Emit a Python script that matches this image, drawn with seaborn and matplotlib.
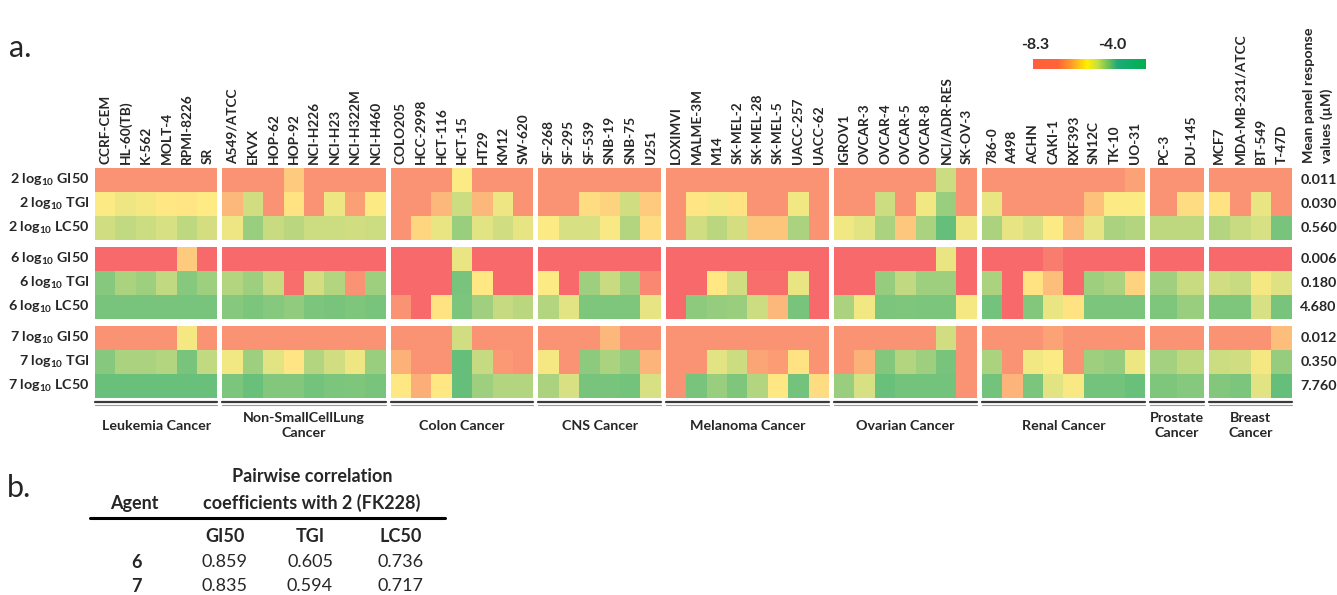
import numpy as np
import pandas as pd
import matplotlib
matplotlib.use('Agg')
import matplotlib.pyplot as plt
import seaborn as sns
from matplotlib.colors import LinearSegmentedColormap
from matplotlib.lines import Line2D

# ---- data (log10 molar concentrations) ----
groups = ['Leukemia Cancer', 'Non-SmallCellLung\nCancer', 'Colon Cancer', 'CNS Cancer',
          'Melanoma Cancer', 'Ovarian Cancer', 'Renal Cancer', 'Prostate\nCancer', 'Breast\nCancer']
cell_lines = [
    ['CCRF-CEM', 'HL-60(TB)', 'K-562', 'MOLT-4', 'RPMI-8226', 'SR'],
    ['A549/ATCC', 'EKVX', 'HOP-62', 'HOP-92', 'NCI-H226', 'NCI-H23', 'NCI-H322M', 'NCI-H460'],
    ['COLO205', 'HCC-2998', 'HCT-116', 'HCT-15', 'HT29', 'KM12', 'SW-620'],
    ['SF-268', 'SF-295', 'SF-539', 'SNB-19', 'SNB-75', 'U251'],
    ['LOXIMVI', 'MALME-3M', 'M14', 'SK-MEL-2', 'SK-MEL-28', 'SK-MEL-5', 'UACC-257', 'UACC-62'],
    ['IGROV1', 'OVCAR-3', 'OVCAR-4', 'OVCAR-5', 'OVCAR-8', 'NCI/ADR-RES', 'SK-OV-3'],
    ['786-0', 'A498', 'ACHN', 'CAKI-1', 'RXF393', 'SN12C', 'TK-10', 'UO-31'],
    ['PC-3', 'DU-145'],
    ['MCF7', 'MDA-MB-231/ATCC', 'BT-549', 'T-47D'],
]

row_labels = [r'2 log$_{\mathregular{10}}$ GI50', r'2 log$_{\mathregular{10}}$ TGI', r'2 log$_{\mathregular{10}}$ LC50',
              r'6 log$_{\mathregular{10}}$ GI50', r'6 log$_{\mathregular{10}}$ TGI', r'6 log$_{\mathregular{10}}$ LC50',
              r'7 log$_{\mathregular{10}}$ GI50', r'7 log$_{\mathregular{10}}$ TGI', r'7 log$_{\mathregular{10}}$ LC50']
mean_response = ['0.011', '0.030', '0.560', '0.006', '0.180', '4.680', '0.012', '0.350', '7.760']

gi50_2 = [-7.6, -7.6, -7.6, -7.6, -7.6, -7.6,
          -7.6, -7.6, -7.6, -6.7, -7.6, -7.6, -7.6, -7.6,
          -7.6, -7.6, -7.6, -6.1, -7.6, -7.6, -7.6,
          -7.6, -7.6, -7.6, -7.6, -7.6, -7.6,
          -7.6, -7.6, -7.6, -7.6, -7.6, -7.6, -7.6, -7.6,
          -7.6, -7.6, -7.6, -7.6, -7.6, -5.45, -7.6,
          -7.6, -7.6, -7.6, -7.6, -7.6, -7.6, -7.6, -7.35,
          -7.6, -7.6,
          -7.6, -7.6, -7.6, -7.6]
tgi_2 = [-6.1, -5.9, -6.0, -6.2, -6.25, -6.15,
         -7.0, -5.5, -7.6, -6.3, -7.6, -5.9, -7.4, -6.1,
         -7.6, -7.6, -7.0, -5.45, -7.0, -5.9, -7.6,
         -7.6, -7.6, -6.4, -6.55, -5.5, -6.7,
         -7.6, -6.25, -6.0, -6.3, -7.6, -7.6, -5.95, -7.6,
         -7.6, -7.6, -5.45, -7.6, -5.95, -4.75, -7.6,
         -5.85, -7.6, -7.6, -7.6, -7.6, -6.85, -6.1, -6.1,
         -7.6, -6.4,
         -6.3, -7.6, -5.85, -7.6]
lc50_2 = [-5.5, -5.3, -5.45, -5.6, -5.25, -5.55,
          -5.9, -4.75, -5.4, -5.2, -5.45, -5.45, -5.5, -5.45,
          -7.6, -6.5, -5.85, -4.75, -5.75, -5.5, -5.8,
          -6.1, -5.6, -5.6, -6.05, -5.1, -6.4,
          -7.6, -5.5, -5.2, -5.55, -6.8, -6.8, -5.0, -7.6,
          -5.95, -5.75, -5.0, -6.75, -5.0, -4.05, -5.9,
          -5.0, -5.8, -5.6, -6.1, -6.95, -5.8, -5.0, -5.1,
          -5.25, -5.25,
          -5.1, -5.4, -5.6, -4.3]
gi50_6 = [-8.3, -8.3, -8.3, -8.3, -6.7, -8.3,
          -8.3, -8.3, -8.3, -8.3, -8.3, -8.3, -8.3, -8.3,
          -8.3, -8.3, -8.3, -5.85, -8.3, -8.3, -8.3,
          -8.3, -8.3, -8.3, -8.3, -8.3, -8.3,
          -8.3, -8.3, -8.3, -8.3, -8.3, -8.3, -8.3, -8.3,
          -8.3, -8.3, -8.3, -8.3, -8.3, -5.85, -8.3,
          -8.3, -8.3, -8.3, -7.95, -8.3, -8.3, -8.3, -8.3,
          -8.3, -8.3,
          -8.3, -8.3, -8.3, -8.3]
tgi_6 = [-4.5, -5.0, -4.8, -5.3, -4.5, -4.8,
         -5.1, -4.8, -5.4, -8.2, -5.55, -5.1, -7.6, -4.8,
         -8.3, -8.3, -8.3, -4.3, -6.2, -8.3, -8.3,
         -6.1, -8.3, -4.8, -5.4, -4.8, -7.8,
         -8.3, -8.3, -6.2, -5.5, -8.2, -8.2, -5.85, -8.3,
         -8.3, -8.3, -4.7, -5.3, -4.8, -4.8, -8.3,
         -5.0, -8.3, -6.3, -6.9, -8.3, -4.8, -5.0, -6.55,
         -4.85, -5.4,
         -5.5, -5.4, -6.0, -5.7]
lc50_6 = [-4.3, -4.3, -4.3, -4.3, -4.3, -4.3,
          -4.5, -4.35, -4.5, -4.65, -4.35, -4.3, -4.4, -4.3,
          -7.6, -8.3, -6.3, -4.35, -4.85, -5.35, -5.2,
          -5.1, -5.75, -4.4, -4.4, -4.4, -5.8,
          -8.3, -4.6, -4.7, -4.75, -5.45, -7.0, -4.3, -8.3,
          -5.0, -5.95, -4.35, -4.4, -4.35, -4.35, -6.0,
          -4.25, -8.3, -4.45, -5.85, -6.3, -4.35, -4.35, -4.35,
          -4.4, -4.75,
          -4.4, -4.4, -5.6, -4.3]
gi50_7 = [-7.6, -7.6, -7.6, -7.6, -6.0, -7.6,
          -7.6, -7.6, -7.6, -7.6, -7.6, -7.6, -7.6, -7.6,
          -7.6, -7.6, -7.6, -5.5, -7.6, -7.6, -7.6,
          -7.6, -7.6, -7.6, -7.0, -7.6, -7.6,
          -7.6, -7.6, -7.6, -7.6, -7.6, -7.6, -7.6, -7.6,
          -7.6, -7.6, -7.6, -7.6, -7.6, -5.5, -7.6,
          -7.6, -7.6, -7.6, -7.35, -7.6, -7.6, -7.6, -7.6,
          -7.6, -7.6,
          -7.6, -7.6, -7.6, -6.9]
tgi_7 = [-4.5, -5.0, -5.0, -5.1, -4.3, -5.3,
         -5.95, -4.8, -5.75, -6.25, -5.1, -5.5, -5.9, -4.75,
         -7.1, -7.6, -7.6, -4.05, -5.35, -7.5, -7.6,
         -6.0, -7.6, -4.6, -5.0, -4.7, -7.05,
         -7.6, -7.6, -5.75, -5.45, -7.3, -7.45, -6.3, -7.6,
         -7.6, -7.1, -4.45, -5.1, -4.8, -4.3, -7.6,
         -5.0, -7.6, -5.95, -6.1, -7.6, -4.8, -4.7, -5.9,
         -4.9, -5.25,
         -5.45, -5.5, -6.0, -4.7]
lc50_7 = [-4.1, -4.1, -4.1, -4.1, -4.1, -4.1,
          -4.35, -4.1, -4.45, -4.45, -4.25, -4.35, -4.4, -4.3,
          -6.2, -7.15, -6.2, -4.05, -4.8, -5.1, -5.1,
          -5.0, -5.6, -4.3, -4.3, -4.25, -5.6,
          -7.6, -4.3, -4.75, -4.4, -5.1, -6.2, -4.25, -6.4,
          -4.75, -5.6, -4.1, -4.25, -4.25, -4.25, -7.6,
          -4.25, -7.05, -4.35, -5.75, -6.05, -4.25, -4.25, -4.1,
          -4.4, -4.5,
          -4.45, -4.35, -5.75, -4.05]

# part b table
agents = ['6', '7']
corr_cols = ['GI50', 'TGI', 'LC50']
corr_6 = ['0.859', '0.605', '0.736']
corr_7 = ['0.835', '0.594', '0.717']

# ---- figure ----
sns.set_style('white')
plt.rcParams['font.family'] = ['Lato', 'DejaVu Sans']

W, H = 1337, 595
fig = plt.figure(figsize=(W / 100, H / 100), dpi=100)


def rect(x0, y0, x1, y1):
    return [x0 / W, 1 - y1 / H, (x1 - x0) / W, (y1 - y0) / H]


cmap = LinearSegmentedColormap.from_list('excel', ['#F8696B', '#FFEB84', '#63BE7B'])
all_rows = np.array([gi50_2, tgi_2, lc50_2, gi50_6, tgi_6, lc50_6, gi50_7, tgi_7, lc50_7])

col_w = [20.4] * 7 + [27, 20.75]
blocks = [(168, 240), (247, 319), (326, 398)]

x = 95
start = 0
for g, names in enumerate(cell_lines):
    n = len(names)
    x1 = x + n * col_w[g]
    for b, (y0, y1) in enumerate(blocks):
        ax = fig.add_axes(rect(x, y0, x1, y1))
        df = pd.DataFrame(all_rows[3 * b:3 * b + 3, start:start + n],
                          index=row_labels[3 * b:3 * b + 3], columns=names)
        sns.heatmap(df, ax=ax, cmap=cmap, vmin=-8.3, vmax=-4.0, cbar=False,
                    xticklabels=(b == 0), yticklabels=(g == 0))
        ax.set_xlabel('')
        ax.set_ylabel('')
        ax.tick_params(length=0)
        if b == 0:
            ax.xaxis.tick_top()
            ax.set_xticklabels(names, rotation=90, fontweight='bold', fontsize=9.8)
            ax.tick_params(axis='x', pad=3, length=0)
        if g == 0:
            ax.set_yticklabels(row_labels[3 * b:3 * b + 3], rotation=0,
                               fontweight='bold', fontsize=10.3)
            ax.tick_params(axis='y', pad=4, length=0)
        if g == len(cell_lines) - 1:
            for i in range(3):
                ax.annotate(mean_response[3 * b + i], xy=(1, i + 0.5),
                            xycoords=('axes fraction', 'data'), xytext=(6, 0),
                            textcoords='offset points', va='center', ha='left',
                            fontweight='bold', fontsize=10.3)
    # bracket under each group
    fig.add_artist(Line2D([x / W, x1 / W], [1 - 402 / H] * 2, color='#3a3a3a', lw=1.6))
    fig.add_artist(Line2D([x / W, x1 / W], [1 - 404.8 / H] * 2, color='#9a9a9a', lw=0.8))
    fig.text((x + x1) / 2 / W, 1 - 425.5 / H, groups[g], ha='center', va='center',
             multialignment='center', fontweight='bold', fontsize=10.3, linespacing=1.25)
    start += n
    x = x1 + 5

# colour key
legend_cmap = LinearSegmentedColormap.from_list(
    'key', [(0, '#FF5F3E'), (0.22, '#FF6438'), (0.34, '#FF9C2A'), (0.48, '#FFF000'),
            (0.57, '#C8E040'), (0.65, '#7CC850'), (0.75, '#20A878'), (0.85, '#10AE68'),
            (1, '#00B050')])
cax = fig.add_axes(rect(1033, 59, 1146, 69))
cax.imshow(np.linspace(0, 1, 256).reshape(1, -1), aspect='auto', cmap=legend_cmap)
cax.axis('off')
fig.text(1035 / W, 1 - 45 / H, '-8.3', ha='center', va='center', fontweight='bold', fontsize=11.5)
fig.text(1112 / W, 1 - 45 / H, '-4.0', ha='center', va='center', fontweight='bold', fontsize=11.5)

fig.text(1318 / W, 1 - 163 / H, 'Mean panel response\nvalues (µM)', rotation=90,
         ha='center', va='bottom', multialignment='left', fontweight='bold',
         fontsize=10.3, linespacing=1.55)

fig.text(9 / W, 1 - 48 / H, 'a.', ha='left', va='center', fontsize=22)
fig.text(7 / W, 1 - 488 / H, 'b.', ha='left', va='center', fontsize=22)

# ---- part b: correlation table ----
tfs = 13
fig.text(134 / W, 1 - 503 / H, 'Agent', ha='center', va='center', fontweight='bold', fontsize=tfs)
fig.text(312 / W, 1 - 477 / H, 'Pairwise correlation', ha='center', va='center',
         fontweight='bold', fontsize=tfs)
fig.text(312 / W, 1 - 503 / H, 'coefficients with 2 (FK228)', ha='center', va='center',
         fontweight='bold', fontsize=tfs)
fig.add_artist(Line2D([90 / W, 445 / W], [1 - 518 / H] * 2, color='black', lw=2.2))
col_x = [225, 310, 401]
for cx, name in zip(col_x, corr_cols):
    fig.text(cx / W, 1 - 536 / H, name, ha='center', va='center', fontweight='bold', fontsize=tfs)
for ry, agent, vals in zip([562, 586], agents, [corr_6, corr_7]):
    fig.text(136 / W, 1 - ry / H, agent, ha='center', va='center', fontweight='bold', fontsize=tfs)
    for cx, v in zip(col_x, vals):
        fig.text(cx / W, 1 - ry / H, v, ha='center', va='center', fontsize=tfs)

fig.savefig('out.png', dpi=100)
